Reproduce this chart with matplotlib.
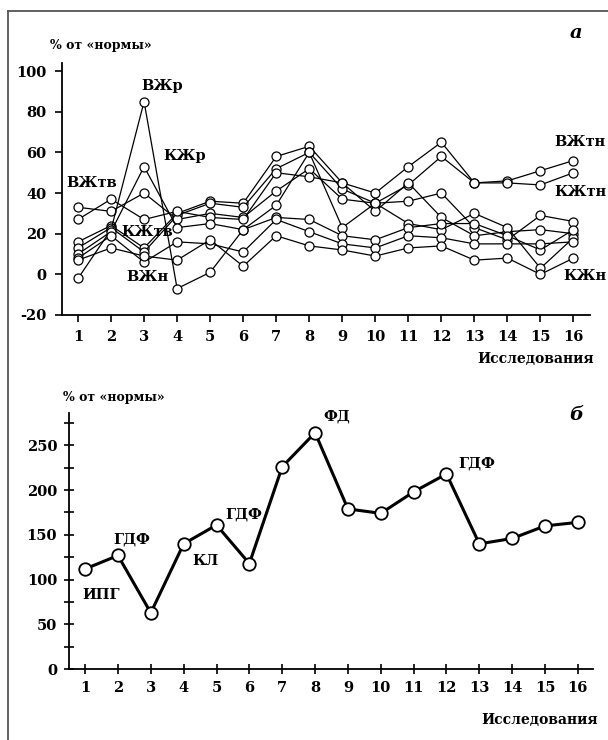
import matplotlib
matplotlib.use("Agg")
import matplotlib.pyplot as plt
from matplotlib.lines import Line2D

plt.rcParams['font.family'] = ['DejaVu Serif']
plt.rcParams['font.weight'] = 'bold'
plt.rcParams['axes.unicode_minus'] = False

# --- data ---
studies = list(range(1, 17))

# panel a: % of norm for each index
vzh_tn = [16, 24, 13, 30, 36, 35, 58, 63, 45, 40, 53, 65, 45, 46, 51, 56]
kzh_tn = [13, 23, 11, 29, 35, 33, 52, 60, 42, 35, 44, 58, 45, 45, 44, 50]
vzh_tv = [33, 31, 40, 27, 30, 28, 41, 52, 37, 35, 36, 40, 23, 17, 29, 26]
kzh_tv = [27, 37, 27, 31, 28, 27, 50, 48, 45, 31, 45, 28, 19, 21, 22, 20]
vzh_r = [-2, 22, 85, -7, 1, 22, 34, 60, 23, 35, 25, 22, 30, 23, 3, 18]
kzh_r = [10, 21, 53, 23, 25, 22, 28, 27, 19, 17, 23, 25, 25, 19, 12, 22]
vzh_n = [8, 19, 6, 16, 15, 11, 27, 21, 15, 13, 19, 18, 15, 15, 15, 16]
kzh_n = [7, 13, 9, 7, 17, 4, 19, 14, 12, 9, 13, 14, 7, 8, 0, 8]

# panel b
total = [112, 127, 63, 140, 161, 118, 226, 264, 179, 174, 198, 218, 140, 146, 160, 164]

series_a = [vzh_tn, kzh_tn, vzh_tv, kzh_tv, vzh_r, kzh_r, vzh_n, kzh_n]

fig = plt.figure(figsize=(6.08, 7.40), dpi=100)

# frame around the figure
fig.add_artist(Line2D([8/608, 8/608], [0, 1 - 11/740], transform=fig.transFigure,
                      color='#555555', lw=1.3))
fig.add_artist(Line2D([8/608, 1], [1 - 11/740, 1 - 11/740], transform=fig.transFigure,
                      color='#555555', lw=1.3))

# ---------- panel a ----------
ax1 = fig.add_axes([62/608, 1 - 315/740, 528/608, 252/740])
for s in series_a:
    ax1.plot(studies, s, color='black', lw=0.9, marker='o', ms=6.5,
             mfc='white', mec='black', mew=0.9)
ax1.set_xlim(0.515, 16.5)
ax1.set_ylim(-20, 104)
ax1.set_yticks(range(-20, 101, 20))
ax1.set_xticks(studies)
for sp in ['top', 'right']:
    ax1.spines[sp].set_visible(False)
for sp in ['left', 'bottom']:
    ax1.spines[sp].set_linewidth(1.3)
ax1.tick_params(direction='out', length=5, width=1.2, labelsize=10.5, pad=6)
for lab in ax1.get_xticklabels() + ax1.get_yticklabels():
    lab.set_fontweight('bold')

labels_a = [('ВЖр', 3.55, 92.6), ('КЖр', 4.24, 58.2), ('ВЖтв', 1.42, 44.9),
            ('КЖтв', 3.09, 21), ('ВЖн', 3.09, -1.2), ('ВЖтн', 16.2, 65.2),
            ('КЖтн', 16.2, 40.6), ('КЖн', 16.36, -0.8)]
for txt, x, y in labels_a:
    ax1.text(x, y, txt, ha='center', va='center', fontsize=10.5,
             fontweight='bold', clip_on=False)

fig.text(50/608, 1 - 45/740, '% от «нормы»', fontsize=9, fontweight='bold',
         va='center', ha='left')
fig.text(576/608, 1 - 33/740, 'а', fontsize=14, fontweight='bold',
         fontstyle='italic', va='center', ha='center')
fig.text(594/608, 1 - 359/740, 'Исследования', fontsize=10, fontweight='bold',
         va='center', ha='right')

# ---------- panel b ----------
ax2 = fig.add_axes([69/608, 1 - 669.3/740, 524/608, 256.3/740])
ax2.plot(studies, total, color='black', lw=2.2, marker='o', ms=9,
         mfc='white', mec='black', mew=1.3)
ax2.set_xlim(0.51, 16.46)
ax2.set_ylim(0, 286)
ax2.set_yticks(range(0, 251, 50))
ax2.set_yticks(range(25, 286, 50), minor=True)
ax2.set_xticks(studies)
for sp in ['top', 'right']:
    ax2.spines[sp].set_visible(False)
for sp in ['left', 'bottom']:
    ax2.spines[sp].set_linewidth(1.3)
ax2.tick_params(direction='inout', length=7, width=1.2, labelsize=10.5, pad=5)
ax2.tick_params(which='minor', direction='inout', length=7, width=1.2)
for lab in ax2.get_xticklabels() + ax2.get_yticklabels():
    lab.set_fontweight('bold')

labels_b = [('ИПГ', 1.49, 83), ('ГДФ', 2.43, 145), ('КЛ', 4.65, 121),
            ('ГДФ', 5.84, 172.5), ('ФД', 8.67, 281.7), ('ГДФ', 12.93, 230)]
for txt, x, y in labels_b:
    ax2.text(x, y, txt, ha='center', va='center', fontsize=10.5,
             fontweight='bold', clip_on=False)

fig.text(63/608, 1 - 398/740, '% от «нормы»', fontsize=9, fontweight='bold',
         va='center', ha='left')
fig.text(576/608, 1 - 415/740, 'б', fontsize=14, fontweight='bold',
         fontstyle='italic', va='center', ha='center')
fig.text(598/608, 1 - 720/740, 'Исследования', fontsize=10, fontweight='bold',
         va='center', ha='right')

fig.savefig('out.png', dpi=100)
